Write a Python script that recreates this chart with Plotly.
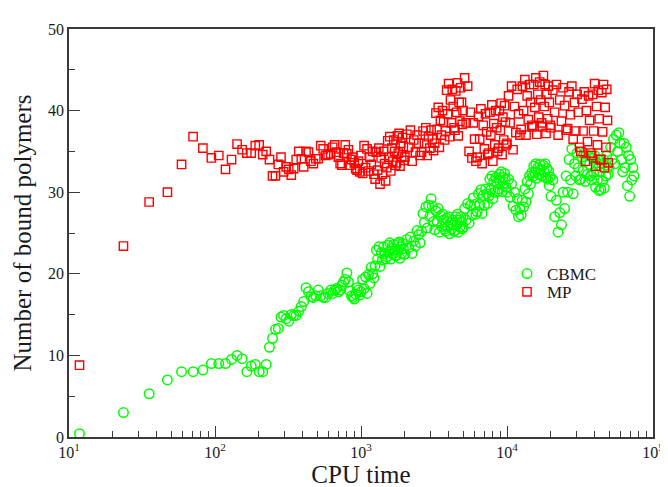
import plotly.graph_objects as go

# ---------------- data ----------------
# CPU time of each sample (sparse start, then denser sampling of the long run)
time_early = [11.8, 23.6, 35.4, 47.2, 59.0, 70.8, 82.6, 94.4, 106.2, 118.0,
              129.8, 141.6, 153.4, 165.2, 177.0, 188.8, 200.6, 212.4, 224.2, 236.0,
              247.8, 259.6, 271.4, 283.2, 295.0]
time_mid = [307, 320, 333, 346, 360, 375, 390, 405, 420, 437,
            454, 472, 490, 510, 530, 551, 572, 595,
            620, 640, 660, 680, 700, 720, 740, 760, 780, 800,
            820, 840, 860, 880, 900, 920, 940, 960, 980]
time_late = [1000, 1025, 1050, 1075, 1100, 1125, 1150, 1175, 1200, 1225,
             1250, 1275, 1300, 1325, 1350, 1375, 1400, 1425, 1450, 1475,
             1500, 1525, 1550, 1575, 1600, 1625, 1650, 1675, 1700, 1725,
             1750, 1775, 1800, 1825, 1850, 1875, 1900, 1925, 1950, 1975,
             2000, 2060, 2120, 2180, 2240, 2300, 2360, 2420, 2480, 2540,
             2600, 2660, 2720, 2780, 2840, 2900, 2960, 3020, 3080, 3140,
             3200, 3260, 3320, 3380, 3440, 3500, 3560, 3620, 3680, 3740,
             3800, 3860, 3920, 3980, 4040, 4100, 4160, 4220, 4280, 4340,
             4400, 4460, 4520, 4580, 4640, 4700, 4760, 4820, 4880, 4940,
             5000, 5125, 5250, 5375, 5500, 5625, 5750, 5875, 6000, 6125,
             6250, 6375, 6500, 6625, 6750, 6875, 7000, 7125, 7250, 7375,
             7500, 7625, 7750, 7875, 8000, 8125, 8250, 8375, 8500, 8625,
             8750, 8875, 9000, 9125, 9250, 9375, 9500, 9625, 9750, 9875,
             10000, 10250, 10500, 10750, 11000, 11250, 11500, 11750, 12000, 12250,
             12500, 12750, 13000, 13250, 13500, 13750, 14000, 14250, 14500, 14750,
             15000, 15250, 15500, 15750, 16000, 16250, 16500, 16750, 17000, 17250,
             17500, 17750, 18000, 18250, 18500, 18750, 19000, 19250, 19500, 19750,
             20000, 20600, 21200, 21800, 22400, 23000, 23600, 24200, 24800, 25400,
             26000, 26600, 27200, 27800, 28400, 29000, 29600, 30200, 30800, 31400,
             32000, 32600, 33200, 33800, 34400, 35000, 35600, 36200, 36800, 37400,
             38000, 38600, 39200, 39800, 40400, 41000, 41600, 42200, 42800, 43400,
             44000, 44600, 45200, 45800, 46400, 47000, 47600, 48200, 48800, 49400,
             50000, 51200, 52400, 53600, 54800, 56000, 57200, 58400, 59600, 60800,
             62000, 63200, 64400, 65600, 66800, 68000, 69200, 70400, 71600, 72800,
             74000]

cbmc_early = [0.4, 3.0, 5.3, 7.0, 8.0, 8.0, 8.2, 9.0, 9.0, 9.0,
              9.5, 10.0, 9.6, 8.0, 8.7, 8.9, 8.0, 8.0, 8.9, 11.0,
              12.1, 13.2, 13.3, 14.7, 14.9]
cbmc_mid = [14.5, 14.2, 15.0, 14.9, 14.9, 15.4, 16.0, 16.6, 18.3, 17.8,
            17.2, 17.1, 17.3, 18.0, 17.3, 17.1, 17.1, 17.6,
            18.0, 17.6, 18.0, 18.2, 17.8, 18.0, 18.6, 19.0, 19.3, 20.1,
            19.0, 17.9, 17.3, 17.1, 16.9, 17.5, 18.3, 18.0, 17.4]
cbmc_late = [17.8, 19.3, 18.2, 19.6, 17.6, 19.9, 18.8, 20.8, 20.0, 19.5,
             21.0, 22.9, 21.8, 23.3, 20.9, 22.6, 21.7, 23.3, 22.5, 21.8,
             22.1, 23.5, 22.7, 23.8, 21.8, 23.1, 22.4, 23.6, 23.0, 22.2,
             22.3, 23.7, 22.9, 23.9, 21.9, 23.3, 22.5, 23.7, 23.1, 22.4,
             22.4, 24.2, 23.2, 24.5, 22.5, 24.0, 23.4, 25.3, 24.8, 23.8,
             25.2, 27.4, 26.3, 28.2, 25.6, 28.4, 27.0, 29.2, 28.3, 26.4,
             25.4, 27.7, 26.4, 28.0, 25.1, 27.1, 25.8, 27.3, 26.6, 25.5,
             25.2, 26.8, 25.8, 27.0, 24.9, 26.3, 25.5, 26.6, 26.0, 25.2,
             25.3, 27.0, 26.0, 27.3, 25.1, 26.6, 25.7, 27.0, 26.4, 25.5,
             25.7, 28.0, 26.6, 28.6, 26.2, 28.4, 27.2, 29.3, 28.5, 27.3,
             27.6, 29.8, 28.5, 30.3, 27.4, 29.6, 28.4, 30.4, 29.8, 28.6,
             29.5, 31.6, 30.3, 32.0, 29.2, 31.3, 30.0, 31.8, 31.2, 30.0,
             30.4, 32.2, 31.2, 32.5, 30.1, 31.8, 30.8, 32.3, 31.6, 30.6,
             30.0, 31.6, 29.4, 31.0, 28.3, 30.0, 27.8, 29.2, 27.0, 28.0,
             27.2, 29.0, 28.2, 30.4, 28.8, 31.3, 29.8, 32.0, 31.0, 32.4,
             31.9, 33.2, 32.4, 33.5, 31.7, 33.0, 32.2, 33.4, 32.8, 32.0,
             32.0, 33.3, 32.5, 33.5, 31.8, 32.9, 31.6, 32.6, 30.8, 31.9,
             29.5, 31.5, 27.0, 29.0, 25.1, 27.5, 26.0, 30.0, 28.0, 32.0,
             30.0, 34.0, 31.5, 35.3, 29.8, 33.5, 32.0, 34.8, 33.0, 31.5,
             31.6, 34.3, 32.6, 34.8, 31.3, 33.8, 32.2, 34.5, 33.4, 32.0,
             31.5, 34.2, 32.4, 34.5, 30.6, 33.6, 31.5, 34.0, 30.2, 32.5,
             30.3, 33.5, 31.4, 34.0, 30.5, 33.0, 32.0, 34.5, 33.0, 32.2,
             33.0, 35.5, 34.0, 36.5, 33.5, 37.0, 35.0, 37.3, 36.0, 34.0,
             32.5, 36.0, 33.0, 35.5, 30.8, 34.5, 29.5, 34.0, 31.5, 33.0,
             32.0]

mp_early = [8.8, 23.4, 28.8, 30.0, 33.4, 36.8, 35.4, 34.2, 34.5, 32.8,
            34.0, 35.9, 35.2, 34.8, 34.8, 35.7, 35.8, 34.6, 35.0, 34.0,
            32.0, 32.0, 33.4, 34.3, 32.5]
mp_mid = [33.1, 32.8, 32.1, 32.9, 34.0, 35.0, 34.1, 33.1, 35.0, 34.9,
          33.8, 33.5, 34.1, 34.1, 35.7, 35.3, 34.5, 34.6,
          34.7, 35.5, 35.8, 34.9, 34.3, 33.5, 33.3, 34.8, 35.8, 34.7,
          35.2, 33.3, 34.0, 34.3, 33.6, 32.9, 32.7, 33.8, 32.5]
mp_late = [34.5, 32.3, 35.7, 33.0, 35.3, 32.6, 34.3, 33.4, 35.0, 32.2,
           31.6, 34.9, 32.7, 35.4, 31.0, 34.2, 32.2, 35.0, 33.5, 31.4,
           33.0, 36.3, 34.3, 36.8, 32.6, 35.4, 33.8, 36.4, 35.0, 33.3,
           33.6, 36.9, 34.8, 37.2, 33.2, 36.0, 34.4, 36.7, 35.6, 33.9,
           34.3, 37.1, 35.5, 37.6, 33.8, 36.4, 34.9, 37.0, 36.0, 34.5,
           34.9, 37.5, 36.0, 37.9, 34.5, 36.8, 35.4, 37.6, 36.5, 35.1,
           36.0, 39.7, 37.7, 40.4, 35.5, 38.8, 37.0, 40.0, 38.6, 36.4,
           37.5, 42.5, 39.6, 43.3, 36.8, 41.3, 38.5, 42.6, 40.5, 37.9,
           37.6, 42.4, 39.8, 43.4, 36.9, 41.0, 38.7, 42.8, 41.0, 38.3,
           40.0, 44.0, 38.5, 43.0, 35.0, 39.8, 34.2, 38.5, 36.5, 33.8,
           34.3, 39.3, 36.5, 40.2, 33.5, 38.2, 35.3, 39.6, 37.4, 34.6,
           34.8, 39.8, 37.0, 40.7, 33.8, 38.4, 35.8, 40.0, 37.9, 35.0,
           35.4, 40.0, 37.6, 40.9, 34.6, 39.2, 36.4, 40.6, 38.6, 35.8,
           36.0, 41.8, 38.5, 43.0, 35.2, 40.5, 37.3, 42.6, 39.6, 37.0,
           37.7, 43.0, 40.0, 43.8, 37.0, 41.8, 38.9, 43.2, 41.0, 38.2,
           38.0, 43.2, 40.4, 44.0, 37.1, 42.0, 39.2, 43.5, 41.3, 38.5,
           38.0, 44.3, 40.5, 43.2, 37.2, 42.0, 39.0, 43.0, 41.0, 38.2,
           37.9, 42.5, 39.8, 43.2, 37.0, 41.3, 38.7, 42.8, 40.6, 37.6,
           37.8, 42.3, 39.5, 43.0, 36.5, 41.0, 37.5, 42.0, 39.8, 35.5,
           35.0, 41.4, 37.5, 42.3, 33.8, 40.0, 36.2, 41.8, 38.8, 34.8,
           34.5, 42.0, 37.5, 43.3, 33.2, 40.5, 35.8, 42.5, 39.0, 34.0,
           34.0, 42.2, 37.4, 43.2, 33.0, 40.4, 35.5, 42.6, 38.8, 33.6]

x_tick_values = [10, 100, 1000, 10000, 100000]
x_tick_labels = ["10<sup>1</sup>", "10<sup>2</sup>", "10<sup>3</sup>",
                 "10<sup>4</sup>", "10<sup>5</sup>"]
x_minor_values = [20, 30, 40, 50, 60, 70, 80, 90,
                  200, 300, 400, 500, 600, 700, 800, 900,
                  2000, 3000, 4000, 5000, 6000, 7000, 8000, 9000,
                  20000, 30000, 40000, 50000, 60000, 70000, 80000, 90000]
y_tick_values = [0, 10, 20, 30, 40, 50]

# ---------------- assemble ----------------
cpu_time = time_early + time_mid + time_late
cbmc = cbmc_early + cbmc_mid + cbmc_late
mp = mp_early + mp_mid + mp_late

SERIF = "Liberation Serif, Times New Roman, serif"
AXIS_COLOR = "#3a3a3a"
TEXT_COLOR = "#1a1a1a"

fig = go.Figure()
fig.add_trace(go.Scatter(
    x=cpu_time[:len(cbmc)], y=cbmc, mode="markers", name="CBMC",
    legend="legend",
    marker=dict(symbol="circle-open", size=9.5, color="#00ff00",
                line=dict(width=1.5, color="#00ff00")),
))
fig.add_trace(go.Scatter(
    x=cpu_time[:len(mp)], y=mp, mode="markers", name="MP",
    legend="legend2",
    marker=dict(symbol="square-open", size=8.3, color="#ff0000",
                line=dict(width=1.4, color="#ff0000")),
))

fig.update_layout(
    width=668, height=487, autosize=False,
    margin=dict(l=61, r=12, t=21, b=50),
    paper_bgcolor="white", plot_bgcolor="white",
    font=dict(family=SERIF, color=TEXT_COLOR),
    showlegend=True,
    legend=dict(x=0.75, y=0.3995, xanchor="left", yanchor="middle",
                bgcolor="rgba(0,0,0,0)", font=dict(family=SERIF, size=17)),
    legend2=dict(x=0.75, y=0.3548, xanchor="left", yanchor="middle",
                 bgcolor="rgba(0,0,0,0)", font=dict(family=SERIF, size=17)),
    xaxis=dict(
        type="log", range=[1, 5],
        tickmode="array", tickvals=x_tick_values, ticktext=x_tick_labels,
        ticks="inside", ticklen=11, tickwidth=1.4, tickcolor=AXIS_COLOR,
        minor=dict(ticks="inside", ticklen=6, tickwidth=1.2,
                   tickcolor=AXIS_COLOR, tickmode="array",
                   tickvals=x_minor_values, showgrid=False),
        showline=True, linecolor=AXIS_COLOR, linewidth=1.6, mirror=True,
        showgrid=False, zeroline=False,
        tickfont=dict(family=SERIF, size=16, color=TEXT_COLOR),
        title=dict(text="CPU time",
                   font=dict(family=SERIF, size=25, color=TEXT_COLOR),
                   standoff=4),
    ),
    yaxis=dict(
        range=[0, 50], tickmode="array", tickvals=y_tick_values,
        ticks="inside", ticklen=11, tickwidth=1.4, tickcolor=AXIS_COLOR,
        minor=dict(ticks="inside", ticklen=6, tickwidth=1.2,
                   tickcolor=AXIS_COLOR, dtick=5, showgrid=False),
        showline=True, linecolor=AXIS_COLOR, linewidth=1.6, mirror=True,
        showgrid=False, zeroline=False,
        tickfont=dict(family=SERIF, size=16, color=TEXT_COLOR),
        title=dict(text="Number of bound polymers",
                   font=dict(family=SERIF, size=25, color=TEXT_COLOR),
                   standoff=9),
    ),
)

fig.write_html("out.html")
